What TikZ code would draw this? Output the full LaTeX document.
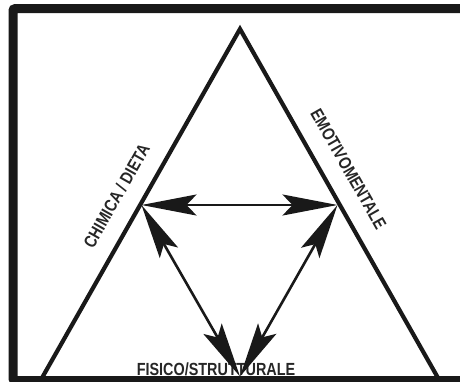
\documentclass[tikz,border=0pt]{standalone}
\usepackage{fontspec}
\setmainfont{Liberation Sans}
\usetikzlibrary{arrows.meta,calc}

\newcommand{\tall}[1]{\scalebox{1}[1.22]{#1}}

\begin{document}
\begin{tikzpicture}[x=1pt,y=-1pt,
  side/.style={black!90,line width=4.2pt,line join=miter},
  label/.style={font=\bfseries\fontsize{14.4}{15}\selectfont,black!85,
                inner sep=0pt},
  link/.style={black!90,line width=2.6pt,
               {Stealth[length=55pt,width=21pt,inset=10pt]}-{Stealth[length=55pt,width=21pt,inset=10pt]}}]

\useasboundingbox (0,0) rectangle (460,381);
\clip (0,0) rectangle (460,381);

%% ---------- frame ----------
\draw[black!90,line width=9pt,rounded corners=2pt] (13,8.7) rectangle (480,380.5);

%% ---------- triangle ----------
\coordinate (A) at (240,29);    % apex
\coordinate (BL) at (42.5,377);
\coordinate (BR) at (437.5,377);
\draw[side] (BL) -- (A) -- (BR);

%% ---------- labels ----------
\node[label,rotate=60.4] (chem) at (116.5,196){\tall{CHIMICA / DIETA}};
\node[label,rotate=-60.4] (emo) at (348.5,169){\tall{EMOTIVOMENTALE}};
\node[label] (fis) at (216,369){\tall{FISICO/STRUTTURALE}};

%% ---------- arrows ----------
\coordinate (L) at (141.5,205);
\coordinate (R) at (337.5,205);
\coordinate (B) at (240,376.5);
\draw[link] (L) -- (R);
\draw[link] (L) -- (B);
\draw[link] (R) -- (B);

\end{tikzpicture}
\end{document}
